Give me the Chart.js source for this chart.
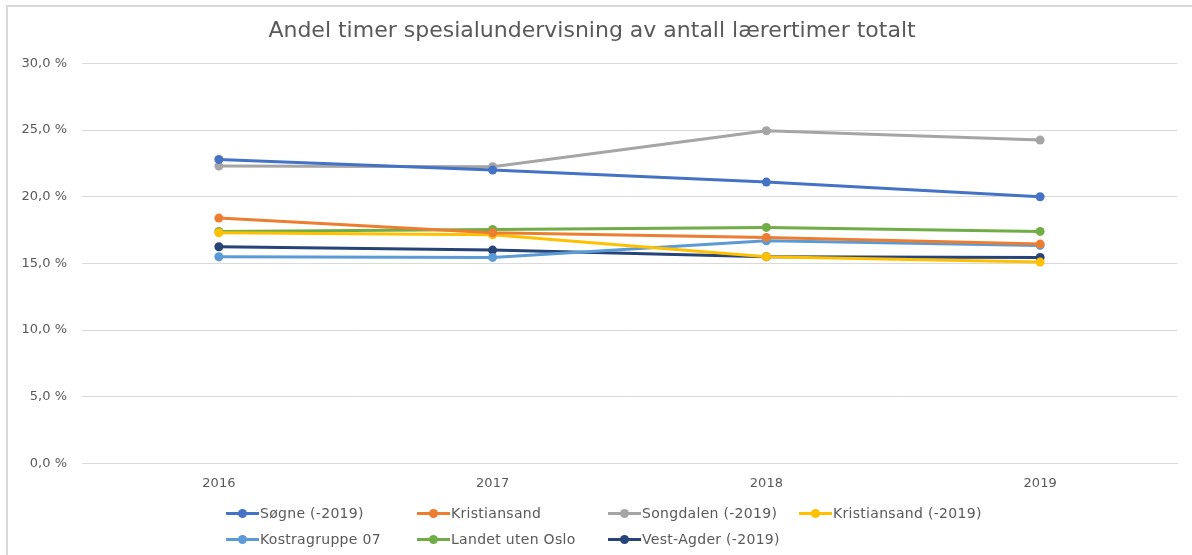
<!DOCTYPE html>
<html lang="no">
  <head>
    <meta charset="utf-8" />
    <title>Andel timer spesialundervisning</title>
    <script src="https://cdn.jsdelivr.net/npm/chart.js@4.4.1/dist/chart.umd.min.js"></script>
    <style>
      * { margin: 0; padding: 0; box-sizing: border-box; }
      html, body { overflow: hidden; }
      body {
        width: 1192px;
        height: 555px;
        background: #fff;
        font-family: "DejaVu Sans", sans-serif;
      }
      .frame {
        position: absolute;
        left: 6px;
        top: 5px;
        width: 1186px;
        height: 550px;
        border-left: 2px solid #d9d9d9;
        border-top: 2px solid #d9d9d9;
      }
      .wrap {
        position: absolute;
        left: 7px;
        top: 6px;
        width: 1185px;
        height: 549px;
      }
      #legend {
        position: absolute;
        left: 226px;
        top: 502px;
        display: grid;
        grid-template-columns: repeat(4, 191px);
        row-gap: 4px;
        font-size: 14px;
        letter-spacing: 0.3px;
        color: #595959;
      }
      .item { display: flex; align-items: center; height: 22px; white-space: nowrap; }
      .swatch { position: relative; width: 33px; height: 3px; margin-right: 1px; flex: none; }
      .swatch span {
        position: absolute;
        left: 12px;
        top: -3px;
        width: 9px;
        height: 9px;
        border-radius: 50%;
      }
    </style>
  </head>
  <body>
    <div class="frame"></div>
    <div class="wrap"><canvas id="chart"></canvas></div>
    <div id="legend"></div>

    <script>
      // categories
      const years = ["2016", "2017", "2018", "2019"];

      // series names and colours
      const names = [
        "Søgne (-2019)",
        "Kristiansand",
        "Songdalen (-2019)",
        "Kristiansand (-2019)",
        "Kostragruppe 07",
        "Landet uten Oslo",
        "Vest-Agder (-2019)",
      ];
      const colors = ["#4472C4", "#ED7D31", "#A5A5A5", "#FFC000", "#5B9BD5", "#70AD47", "#264478"];

      // values in percent
      const sogne = [22.8, 22.0, 21.1, 20.0];
      const kristiansand = [18.4, 17.3, 16.95, 16.45];
      const songdalen = [22.3, 22.25, 24.95, 24.25];
      const kristiansandOld = [17.3, 17.15, 15.5, 15.1];
      const kostra07 = [15.5, 15.45, 16.7, 16.35];
      const landet = [17.4, 17.55, 17.7, 17.4];
      const vestAgder = [16.25, 16.0, 15.5, 15.45];

      const seriesValues = [sogne, kristiansand, songdalen, kristiansandOld, kostra07, landet, vestAgder];

      const tickColor = "#595959";
      const gridColor = "#d9d9d9";
      const fontFamily = "DejaVu Sans";

      const datasets = names.map((name, i) => ({
        label: name,
        data: seriesValues[i],
        borderColor: colors[i],
        backgroundColor: colors[i],
        borderWidth: 3,
        pointRadius: 4.5,
        pointHoverRadius: 4.5,
        pointBorderWidth: 0,
        tension: 0,
      }));

      new Chart(document.getElementById("chart"), {
        type: "line",
        data: { labels: years, datasets: datasets },
        options: {
          responsive: true,
          maintainAspectRatio: false,
          animation: false,
          layout: { padding: { left: 0, right: 15, top: 0, bottom: 60 } },
          plugins: {
            legend: { display: false },
            tooltip: { enabled: false },
            title: {
              display: true,
              text: "Andel timer spesialundervisning av antall lærertimer totalt",
              color: tickColor,
              font: { family: fontFamily, size: 22, weight: "normal" },
              padding: { top: 12, bottom: 19 },
            },
          },
          scales: {
            x: {
              offset: true,
              grid: { display: false, offset: true },
              border: { display: true, color: gridColor, width: 1 },
              ticks: { color: tickColor, font: { family: fontFamily, size: 13 }, padding: 4 },
            },
            y: {
              min: 0,
              max: 30,
              afterFit: (s) => { s.width = 75; },
              border: { display: false },
              grid: { color: gridColor, drawTicks: false },
              ticks: {
                stepSize: 5,
                padding: 15,
                color: tickColor,
                font: { family: fontFamily, size: 13 },
                callback: (v) => v.toFixed(1).replace(".", ",") + " %",
              },
            },
          },
        },
      });

      // legend built from the same names and colours
      const legend = document.getElementById("legend");
      names.forEach((name, i) => {
        const item = document.createElement("div");
        item.className = "item";
        const sw = document.createElement("div");
        sw.className = "swatch";
        sw.style.background = colors[i];
        const dot = document.createElement("span");
        dot.style.background = colors[i];
        sw.appendChild(dot);
        const txt = document.createElement("div");
        txt.textContent = name;
        item.appendChild(sw);
        item.appendChild(txt);
        legend.appendChild(item);
      });
    </script>
  </body>
</html>
